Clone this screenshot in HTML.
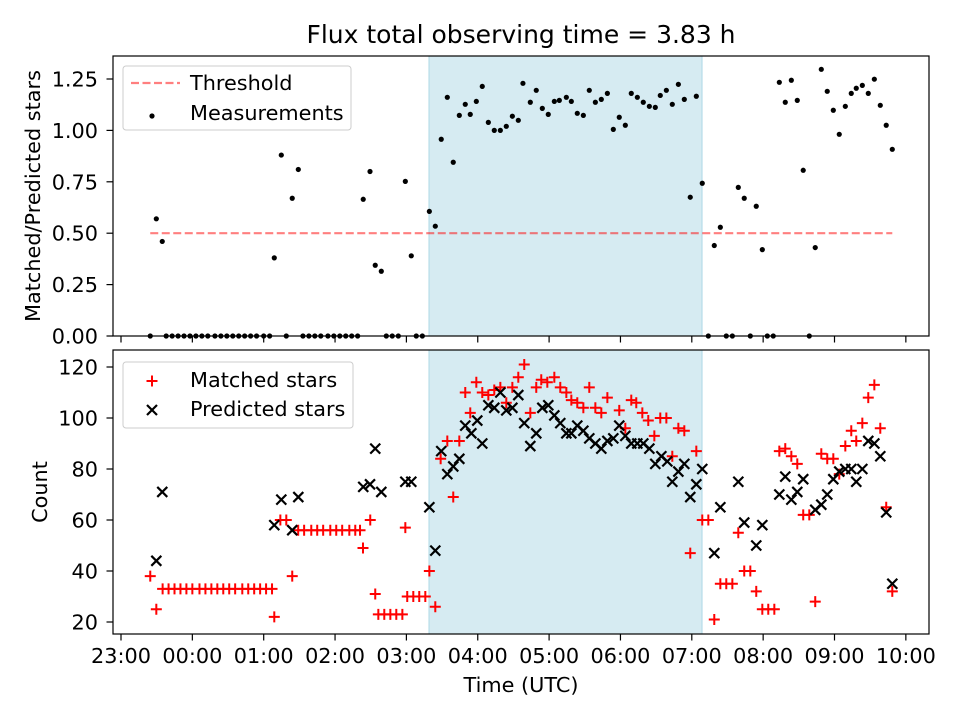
<!DOCTYPE html>
<html><head><meta charset="utf-8"><style>
body{margin:0;background:#fff;}
svg{display:block;font-family:"DejaVu Sans","Liberation Sans",sans-serif;}
</style></head><body>
<svg id="chart" width="960" height="720" viewBox="0 0 960 720" xmlns="http://www.w3.org/2000/svg">
<rect width="960" height="720" fill="#fff"/>
<text x="521" y="43" text-anchor="middle" font-size="25">Flux total observing time = 3.83 h</text>
<g id="top"></g><g id="bot"></g>
<text transform="translate(40,196) rotate(-90)" text-anchor="middle" font-size="20.8">Matched/Predicted stars</text>
<text transform="translate(47,492) rotate(-90)" text-anchor="middle" font-size="20.8">Count</text>
<text x="521" y="692" text-anchor="middle" font-size="20.8">Time (UTC)</text>
</svg>
<script>
// minutes after 23:00
const ratioTimes=[24.6,29.7,34.7,38,43,48,53,58,63,68,73,79,84,89,94,99,104,109,114,120,125,128.9,134.8,139,144,149.1,153,158,163,168,174,179,184,189,194,199,203.7,209.4,213.8,218.9,223.1,228.1,233.2,239.1,244.1,248.3,253.4,259.3,264.3,269.3,274.4,279.4,284.5,289.5,293.7,298.8,303.8,308.9,313.9,319,324,329.1,334.1,338,344.2,349.2,354.3,359.3,364.4,368.6,374.5,378.7,383.7,388.8,393.8,398.9,403.9,409,414,419,424.1,429.1,434.2,439.2,444.3,449.3,453.5,458.6,463.6,468.7,473.7,478.7,483.8,488.8,493.9,498.9,504,509,514.1,519.1,524.1,529.2,534.2,539.3,543.5,548.5,553.6,558.6,563.7,568.7,573.7,578.8,583.8,588.9,593.9,599,604,609.1,614.1,618.3,623.4,628.4,633.5,638.5,643.5,648.6];
const ratioValues=[0,0.57,0.46,0,0,0,0,0,0,0,0,0,0,0,0,0,0,0,0,0,0,0.38,0.88,0,0.67,0.81,0,0,0,0,0,0,0,0,0,0,0.665,0.80,0.344,0.315,0,0,0,0.752,0.39,0,0,0.606,0.534,0.957,1.161,0.845,1.073,1.127,1.078,1.141,1.214,1.039,1.0,1.0,1.02,1.069,1.049,1.229,1.137,1.195,1.107,1.078,1.141,1.146,1.161,1.141,1.083,1.073,1.195,1.137,1.151,1.18,1.005,1.064,1.025,1.18,1.161,1.137,1.117,1.112,1.17,1.195,1.127,1.224,1.151,0.675,1.166,0.743,0,0.44,0.529,0,0,0.723,0.67,0,0.631,0.42,0,0,1.234,1.137,1.244,1.146,0.806,0,0.43,1.297,1.19,1.098,0.981,1.117,1.18,1.205,1.219,1.18,1.249,1.122,1.025,0.908];
const matchedTimes=[24.6,29.7,35,40,45,50,55,60,66,71,76,81,86,91,96,102,107,112,117,122,127,128.9,134,139,144,149,154,160,165,170,176,181,186,192,197,201,203.5,209.6,213.8,216.4,221.4,226.5,231.5,236.6,239.1,240.7,245.8,250.8,255.9,259.3,264.3,268.8,274.4,279.4,284.5,289.5,293.7,298.8,303.8,308.9,313.9,319,324,329.1,334.1,339.1,344.2,349.2,353.4,358.5,364.4,369.4,374.5,378.7,383.7,388.8,393.8,398.9,403.9,409,419,424.1,429.1,433.3,438.4,443.4,448.5,453.5,458.6,463.6,468.7,473.7,478.7,483.8,488.8,493.9,498.9,504,509,514.1,519.1,524.1,529.2,534.2,539.3,544.3,549.4,553.6,558.6,563.7,568.7,573.7,578.8,583.8,588.9,593.9,599,604,609.1,614.1,618.3,623.4,628.4,633.5,638.5,643.5,648.6];
const matchedValues=[38,25,33,33,33,33,33,33,33,33,33,33,33,33,33,33,33,33,33,33,33,22,60,60,38,56,56,56,56,56,56,56,56,56,56,56,49,60,31,23,23,23,23,23,57,30,30,30,30,40,26,84,91,69,91,110,102,114,110,109,111,112,106,112,116,121,102,112,115,114,116,112,110,107,106,104,112,104,102,108,103,96,107,106,102,99,93,100,100,85,96,95,47,87,60,60,21,35,35,35,55,40,40,32,25,25,25,87,88,85,82,62,62,28,86,84,84,78,89,95,91,98,108,113,96,65,32];
const predictedTimes=[29.7,34.7,128.9,134.8,144,149.1,203.7,209.4,213.8,218.9,239.1,244.1,259.3,264.3,269.3,274.4,279.4,284.5,289.5,294.6,299.6,303.8,308.9,313.9,319,324,329.1,334.1,339.1,344.2,349.2,354.3,359.3,364.4,369.4,374.5,378.7,383.7,388.8,393.8,398.9,403.9,409,414,419,424.1,429.1,434.2,439.2,444.3,449.3,454.4,459.4,463.6,468.7,473.7,478.7,483.8,488.8,498.9,504,519.1,524.1,534.2,539.3,553.6,558.6,563.7,568.7,573.7,583.8,588.9,593.9,599,604,609.1,614.1,618.3,623.4,628.4,633.5,638.5,643.5,648.6];
const predictedValues=[44,71,58,68,56,69,73,74,88,71,75,75,65,48,87,78,81,84,97,94,99,90,105,104,110,103,104,109,98,89,94,104,105,101,98,94,94,97,95,92,90,88,91,92,97,93,90,90,90,88,82,85,83,75,79,82,69,74,80,47,65,75,59,50,58,70,77,68,71,76,64,66,70,76,79,80,80,75,80,91,90,85,63,35];
const thresholdValue=0.5;
const spanStart=259, spanEnd=488.6;
const timeTicks=[0,60,120,180,240,300,360,420,480,540,600,660];
const timeTickLabels=["23:00","00:00","01:00","02:00","03:00","04:00","05:00","06:00","07:00","08:00","09:00","10:00"];
const ratioTicks=[0,0.25,0.5,0.75,1.0,1.25];
const ratioTickLabels=["0.00","0.25","0.50","0.75","1.00","1.25"];
const countTicks=[20,40,60,80,100,120];

const NS="http://www.w3.org/2000/svg";
const L=113,R=929;
const xS=m=>121+m/60*71.35;
const yTop=v=>336-v/1.25*257;
const yBot=v=>622-(v-20)*2.55;
function mk(parent,tag,attrs){const e=document.createElementNS(NS,tag);for(const k in attrs)e.setAttribute(k,attrs[k]);parent.appendChild(e);return e;}

function axes(g,top,bottom,yf,ticks,labels,prefix){
  const s=mk(g,'rect',{x:xS(spanStart),y:top,width:xS(spanEnd)-xS(spanStart),height:bottom-top,fill:'#add8e6','fill-opacity':0.5,stroke:'#add8e6','stroke-width':1});
  
  
  ticks.forEach((t,i)=>{
    const y=yf(t);
    const l=mk(g,'line',{x1:L-6.5,x2:L,y1:y,y2:y,stroke:'#000','stroke-width':1.2});
    
    
    const tx=mk(g,'text',{x:L-15,y:y+7.5,'text-anchor':'end','font-size':20.8});
    
    
    tx.textContent=labels[i];
  });
  timeTicks.forEach((t,i)=>{
    const x=xS(t);
    const l=mk(g,'line',{x1:x,x2:x,y1:bottom,y2:bottom+6.5,stroke:'#000','stroke-width':1.2});
    
    
    if(prefix==='bottom'){
      const tx=mk(g,'text',{x:x,y:bottom+29,'text-anchor':'middle','font-size':20.8});
      
      
      tx.textContent=timeTickLabels[i];
    }
  });
}
function frame(g,top,bottom,prefix){
  const f=mk(g,'rect',{x:L,y:top,width:R-L,height:bottom-top,fill:'none',stroke:'#000','stroke-width':1.2});
  
  
}
function plus(g,x,y,c,s){return mk(g,'path',{d:`M${x-s} ${y}H${x+s}M${x} ${y-s}V${y+s}`,stroke:c,'stroke-width':2,fill:'none'});}
function cross(g,x,y,c,s){return mk(g,'path',{d:`M${x-s} ${y-s}L${x+s} ${y+s}M${x-s} ${y+s}L${x+s} ${y-s}`,stroke:c,'stroke-width':2.2,fill:'none'});}

// top
const gt=document.getElementById('top');
axes(gt,56,336,yTop,ratioTicks,ratioTickLabels,'top');
const th=mk(gt,'line',{x1:xS(ratioTimes[0]),x2:xS(ratioTimes[ratioTimes.length-1]),y1:yTop(thresholdValue),y2:yTop(thresholdValue),stroke:'#ff0000','stroke-opacity':0.5,'stroke-width':2.2,'stroke-dasharray':'8 3.5'});


ratioTimes.forEach((t,i)=>{
  const c=mk(gt,'circle',{cx:xS(t),cy:yTop(ratioValues[i]),r:2.6,fill:'#000'});
  
  
});
frame(gt,56,336,'top');
// top legend
const lg1=mk(gt,'g',{});


mk(lg1,'rect',{x:123,y:66,width:228,height:64,rx:3,fill:'#fff','fill-opacity':0.8,stroke:'#ccc'});
mk(lg1,'line',{x1:131,x2:180,y1:83,y2:83,stroke:'#ff0000','stroke-opacity':0.5,'stroke-width':2.2,'stroke-dasharray':'8 3.5'});
mk(lg1,'circle',{cx:152,cy:116,r:2.6,fill:'#000'});
const t1=mk(lg1,'text',{x:190,y:90,'font-size':20.8});t1.textContent='Threshold';
const t2=mk(lg1,'text',{x:190,y:120,'font-size':20.8});t2.textContent='Measurements';

// bottom
const gb=document.getElementById('bot');
axes(gb,350,634,yBot,countTicks,countTicks.map(String),'bottom');
matchedTimes.forEach((t,i)=>{
  const p=plus(gb,xS(t),yBot(matchedValues[i]),'#ff0000',5.5);
  
  
});
predictedTimes.forEach((t,i)=>{
  const p=cross(gb,xS(t),yBot(predictedValues[i]),'#000',5);
  
  
});
frame(gb,350,634,'bottom');
const lg2=mk(gb,'g',{});


mk(lg2,'rect',{x:123,y:362,width:230,height:66,rx:3,fill:'#fff','fill-opacity':0.8,stroke:'#ccc'});
plus(lg2,152,381,'#ff0000',5.5);
cross(lg2,152,410,'#000',5);
const t3=mk(lg2,'text',{x:190,y:387,'font-size':20.8});t3.textContent='Matched stars';
const t4=mk(lg2,'text',{x:190,y:416,'font-size':20.8});t4.textContent='Predicted stars';
</script>
</body></html>
